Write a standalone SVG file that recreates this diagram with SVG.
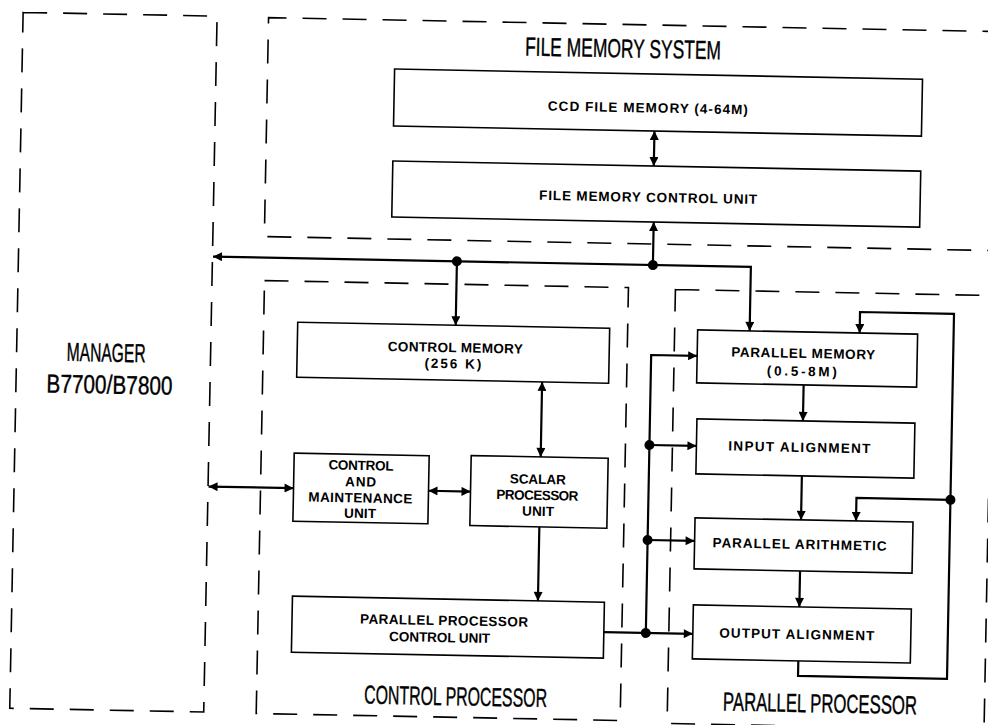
<svg xmlns="http://www.w3.org/2000/svg" width="988" height="725" viewBox="0 0 988 725">
<style>
.box{fill:none;stroke:#000;stroke-width:1.6}
.dash{fill:none;stroke:#000;stroke-width:1.6;stroke-dasharray:24 16}
.conn{fill:none;stroke:#000;stroke-width:2.2}
.lbl{font-family:"Liberation Sans",Arial,sans-serif;font-size:13.5px;font-weight:bold;text-anchor:middle;fill:#000}
.ttl{font-family:"Liberation Sans",Arial,sans-serif;font-size:26px;text-anchor:middle;fill:#000;stroke:#000;stroke-width:0.4}
</style>
<defs>
<marker id="ah" viewBox="0 0 10 10" refX="10" refY="5" markerWidth="10" markerHeight="9" markerUnits="userSpaceOnUse" orient="auto-start-reverse"><path d="M0,0 L10,5 L0,10 z" fill="#000"/></marker>
</defs>
<rect width="988" height="725" fill="#fff"/>
<g transform="rotate(1.1 494 362)">
<g id="manager">
<rect class="dash" x="16.5" y="21.5" width="194" height="696"/>
<text class="ttl" x="106" y="369" textLength="79" lengthAdjust="spacingAndGlyphs">MANAGER</text>
<text class="ttl" x="110" y="401" textLength="126" lengthAdjust="spacingAndGlyphs">B7700/B7800</text>
</g>
<g id="file-memory-system">
<path class="dash" d="M1000,22 H262 V241 H1000"/>
<text class="ttl" x="617" y="55" textLength="196" lengthAdjust="spacingAndGlyphs">FILE MEMORY SYSTEM</text>
</g>
<g id="ccd-file-memory">
<rect class="box" x="389" y="71" width="528" height="57"/>
<text class="lbl" x="643" y="109.5" textLength="200" lengthAdjust="spacing">CCD FILE MEMORY (4-64M)</text>
</g>
<g id="file-memory-control-unit">
<rect class="box" x="389" y="163" width="528" height="56"/>
<text class="lbl" x="645" y="199" textLength="218" lengthAdjust="spacing">FILE MEMORY CONTROL UNIT</text>
</g>
<g id="control-processor">
<rect class="dash" x="263" y="285" width="364" height="433"/>
<text class="ttl" x="462" y="706" textLength="183" lengthAdjust="spacingAndGlyphs">CONTROL PROCESSOR</text>
</g>
<g id="control-memory">
<rect class="box" x="297" y="326" width="312" height="55"/>
<text class="lbl" x="455" y="353" textLength="135" lengthAdjust="spacing">CONTROL MEMORY</text>
<text class="lbl" x="453" y="369" textLength="57" lengthAdjust="spacing">(256 K)</text>
</g>
<g id="control-maintenance-unit">
<rect class="box" x="296" y="457" width="135" height="68"/>
<text class="lbl" x="363" y="472.5" textLength="65" lengthAdjust="spacing">CONTROL</text>
<text class="lbl" x="363" y="489" textLength="31" lengthAdjust="spacing">AND</text>
<text class="lbl" x="363" y="505" textLength="104" lengthAdjust="spacing">MAINTENANCE</text>
<text class="lbl" x="363" y="520.5" textLength="32" lengthAdjust="spacing">UNIT</text>
</g>
<g id="scalar-processor-unit">
<rect class="box" x="473" y="456" width="137" height="70"/>
<text class="lbl" x="540" y="483" textLength="56" lengthAdjust="spacing">SCALAR</text>
<text class="lbl" x="540" y="499" textLength="82" lengthAdjust="spacing">PROCESSOR</text>
<text class="lbl" x="541" y="515" textLength="32" lengthAdjust="spacing">UNIT</text>
</g>
<g id="parallel-processor-control-unit">
<rect class="box" x="297" y="600" width="312" height="56"/>
<text class="lbl" x="449" y="626" textLength="168" lengthAdjust="spacing">PARALLEL PROCESSOR</text>
<text class="lbl" x="445" y="643" textLength="101" lengthAdjust="spacing">CONTROL UNIT</text>
</g>
<g id="parallel-processor">
<rect class="dash" x="674" y="286" width="317" height="434"/>
<text class="ttl" x="826.5" y="706" textLength="194" lengthAdjust="spacingAndGlyphs">PARALLEL PROCESSOR</text>
</g>
<g id="parallel-memory">
<rect class="box" x="697" y="326" width="220" height="53"/>
<text class="lbl" x="803" y="352" textLength="144" lengthAdjust="spacing">PARALLEL MEMORY</text>
<text class="lbl" x="802" y="370" textLength="70" lengthAdjust="spacing">(0.5-8M)</text>
</g>
<g id="input-alignment">
<rect class="box" x="698" y="415" width="218" height="55"/>
<text class="lbl" x="801" y="446" textLength="142" lengthAdjust="spacing">INPUT ALIGNMENT</text>
</g>
<g id="parallel-arithmetic">
<rect class="box" x="698" y="514" width="218" height="51"/>
<text class="lbl" x="803" y="543" textLength="174" lengthAdjust="spacing">PARALLEL ARITHMETIC</text>
</g>
<g id="output-alignment">
<rect class="box" x="698" y="601" width="218" height="54"/>
<text class="lbl" x="802" y="633" textLength="155" lengthAdjust="spacing">OUTPUT ALIGNMENT</text>
</g>
<g id="connectors">
<line class="conn" x1="650" y1="128" x2="650" y2="163" marker-start="url(#ah)" marker-end="url(#ah)"/>
<line class="conn" x1="651" y1="262" x2="651" y2="219" marker-end="url(#ah)"/>
<path class="conn" d="M211,262 H749 V326" marker-start="url(#ah)" marker-end="url(#ah)"/>
<line class="conn" x1="455" y1="262" x2="455" y2="326" marker-end="url(#ah)"/>
<line class="conn" x1="542.5" y1="381" x2="542.5" y2="456" marker-start="url(#ah)" marker-end="url(#ah)"/>
<line class="conn" x1="211" y1="492" x2="296" y2="492" marker-start="url(#ah)" marker-end="url(#ah)"/>
<line class="conn" x1="431" y1="492" x2="473" y2="492" marker-start="url(#ah)" marker-end="url(#ah)"/>
<line class="conn" x1="542.5" y1="526" x2="542.5" y2="600" marker-end="url(#ah)"/>
<line class="conn" x1="609" y1="630" x2="698" y2="630" marker-end="url(#ah)"/>
<path class="conn" d="M651,630 V352 H697" marker-end="url(#ah)"/>
<line class="conn" x1="651" y1="442" x2="698" y2="442" marker-end="url(#ah)"/>
<line class="conn" x1="651" y1="537" x2="698" y2="537" marker-end="url(#ah)"/>
<line class="conn" x1="804" y1="379" x2="804" y2="415" marker-end="url(#ah)"/>
<line class="conn" x1="804" y1="470" x2="804" y2="514" marker-end="url(#ah)"/>
<line class="conn" x1="804" y1="565" x2="804" y2="601" marker-end="url(#ah)"/>
<path class="conn" d="M804,655 V670 H953 V305 H859 V326" marker-end="url(#ah)"/>
<path class="conn" d="M953,491 H859 V514" marker-end="url(#ah)"/>
<circle cx="455" cy="262" r="5"/>
<circle cx="651" cy="262" r="5"/>
<circle cx="651" cy="442" r="5"/>
<circle cx="651" cy="537" r="5"/>
<circle cx="651" cy="630" r="5"/>
<circle cx="953" cy="491" r="5"/>
</g>
</g>
</svg>
